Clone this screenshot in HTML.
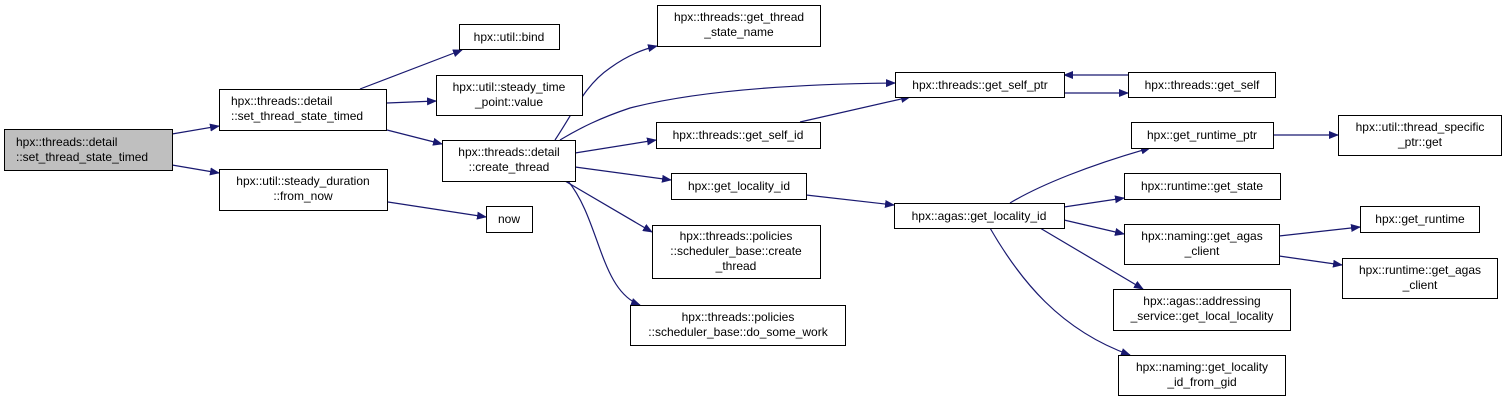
<!DOCTYPE html>
<html><head><meta charset="utf-8"><style>
body{margin:0;background:#fff}
svg text{font-family:"Liberation Sans",Arial,sans-serif;font-size:12px;fill:#000}
</style></head><body>
<svg width="1507" height="401" viewBox="0 0 1507 401" xmlns="http://www.w3.org/2000/svg">
<defs><marker id="a" markerWidth="10" markerHeight="8" refX="9" refY="4" orient="auto" markerUnits="userSpaceOnUse"><path d="M0,0 L10,4 L0,8 Z" fill="#191970"/></marker></defs>
<g fill="none" stroke="#191970" stroke-width="1.2" marker-end="url(#a)">
<path d="M172,134 L219,126"/>
<path d="M172,165 L219,173"/>
<path d="M360,89 L462,50"/>
<path d="M387,103 L436,101"/>
<path d="M387,130 L442,144"/>
<path d="M388,202 L486,217"/>
<path d="M555,140 C575,110 585,85 610,68 C625,57 640,50 657,46"/>
<path d="M560,140 C580,128 600,118 630,108 C700,90 800,84 895,83"/>
<path d="M575,153 L656,140"/>
<path d="M575,167 L671,180"/>
<path d="M565,181 L652,232"/>
<path d="M568,181 C600,220 600,290 640,305"/>
<path d="M800,122 L910,97"/>
<path d="M1064,93 L1128,93"/>
<path d="M1128,75 L1064,75"/>
<path d="M806,195 L894,205"/>
<path d="M1010,203 C1040,185 1090,165 1150,148"/>
<path d="M1064,207 L1124,198"/>
<path d="M1064,220 L1124,234"/>
<path d="M1040,228 L1143,289"/>
<path d="M990,228 C1020,280 1060,330 1130,355"/>
<path d="M1273,135 L1338,135"/>
<path d="M1279,236 L1360,227"/>
<path d="M1279,256 L1342,265"/>
</g>
<g stroke="#000" stroke-width="1" fill="#fff">
<rect x="4.5" y="129.5" width="168" height="41" fill="#bfbfbf"/>
<rect x="219.5" y="89.5" width="167" height="41"/>
<rect x="219.5" y="169.5" width="168" height="41"/>
<rect x="459.5" y="24.5" width="100" height="25"/>
<rect x="436.5" y="75.5" width="146" height="40"/>
<rect x="442.5" y="140.5" width="133" height="41"/>
<rect x="486.5" y="206.5" width="46" height="26"/>
<rect x="657.5" y="5.5" width="163" height="41"/>
<rect x="895.5" y="72.5" width="169" height="25"/>
<rect x="656.5" y="122.5" width="164" height="26"/>
<rect x="671.5" y="173.5" width="135" height="26"/>
<rect x="652.5" y="225.5" width="168" height="53"/>
<rect x="630.5" y="305.5" width="215" height="40"/>
<rect x="894.5" y="203.5" width="170" height="25"/>
<rect x="1128.5" y="72.5" width="147" height="25"/>
<rect x="1131.5" y="122.5" width="142" height="26"/>
<rect x="1338.5" y="115.5" width="163" height="40"/>
<rect x="1124.5" y="173.5" width="156" height="26"/>
<rect x="1360.5" y="206.5" width="119" height="26"/>
<rect x="1124.5" y="224.5" width="155" height="40"/>
<rect x="1342.5" y="258.5" width="155" height="40"/>
<rect x="1113.5" y="289.5" width="177" height="41"/>
<rect x="1118.5" y="355.5" width="167" height="40"/>
</g>
<g>
<text x="16" y="146">hpx::threads::detail</text><text x="16" y="161">::set_thread_state_timed</text>
<text x="231" y="105">hpx::threads::detail</text><text x="231" y="120">::set_thread_state_timed</text>
<g text-anchor="middle">
<text x="303" y="185">hpx::util::steady_duration</text><text x="303" y="200">::from_now</text>
<text x="509" y="41">hpx::util::bind</text>
<text x="509" y="91">hpx::util::steady_time</text><text x="509" y="106">_point::value</text>
<text x="509" y="156">hpx::threads::detail</text><text x="509" y="171">::create_thread</text>
<text x="509" y="223">now</text>
<text x="739" y="21">hpx::threads::get_thread</text><text x="739" y="36">_state_name</text>
<text x="980" y="89">hpx::threads::get_self_ptr</text>
<text x="738" y="139">hpx::threads::get_self_id</text>
<text x="739" y="190">hpx::get_locality_id</text>
<text x="736" y="240">hpx::threads::policies</text><text x="736" y="255">::scheduler_base::create</text><text x="736" y="270">_thread</text>
<text x="738" y="321">hpx::threads::policies</text><text x="738" y="336">::scheduler_base::do_some_work</text>
<text x="979" y="220">hpx::agas::get_locality_id</text>
<text x="1202" y="89">hpx::threads::get_self</text>
<text x="1202" y="139">hpx::get_runtime_ptr</text>
<text x="1420" y="131">hpx::util::thread_specific</text><text x="1420" y="146">_ptr::get</text>
<text x="1202" y="190">hpx::runtime::get_state</text>
<text x="1420" y="223">hpx::get_runtime</text>
<text x="1202" y="240">hpx::naming::get_agas</text><text x="1202" y="255">_client</text>
<text x="1420" y="274">hpx::runtime::get_agas</text><text x="1420" y="289">_client</text>
<text x="1202" y="305">hpx::agas::addressing</text><text x="1202" y="320">_service::get_local_locality</text>
<text x="1202" y="371">hpx::naming::get_locality</text><text x="1202" y="386">_id_from_gid</text>
</g></g>
</svg>
</body></html>
